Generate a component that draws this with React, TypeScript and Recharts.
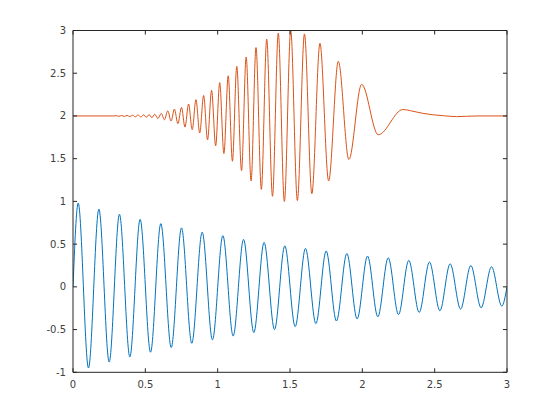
import React from "react";
import { LineChart, Line, XAxis, YAxis, ReferenceLine } from "recharts";

// Blue series: time stamps of samples (start, peaks/troughs, end) and values
const blueT = [0, 0.036, 0.107, 0.179, 0.25, 0.321, 0.393, 0.464, 0.536, 0.607, 0.679, 0.75, 0.821, 0.893, 0.964, 1.036, 1.107, 1.179, 1.25, 1.321, 1.393, 1.464, 1.536, 1.607, 1.679, 1.75, 1.821, 1.893, 1.964, 2.036, 2.107, 2.179, 2.25, 2.321, 2.393, 2.464, 2.536, 2.607, 2.679, 2.75, 2.821, 2.893, 2.964, 3.0];
const blueV = [0, 0.98, -0.95, 0.91, -0.88, 0.85, -0.82, 0.79, -0.765, 0.74, -0.71, 0.69, -0.66, 0.64, -0.62, 0.6, -0.575, 0.555, -0.535, 0.52, -0.5, 0.48, -0.465, 0.45, -0.43, 0.42, -0.4, 0.39, -0.375, 0.36, -0.35, 0.34, -0.325, 0.31, -0.3, 0.29, -0.28, 0.27, -0.26, 0.25, -0.245, 0.235, -0.225, 0];

// Orange series
const orangeT = [0, 0.28, 0.298, 0.317, 0.336, 0.355, 0.374, 0.393, 0.412, 0.431, 0.45, 0.469, 0.488, 0.507, 0.526, 0.545, 0.565, 0.587, 0.61, 0.632, 0.655, 0.678, 0.701, 0.725, 0.75, 0.774, 0.799, 0.824, 0.85, 0.876, 0.903, 0.93, 0.958, 0.986, 1.014, 1.043, 1.073, 1.102, 1.132, 1.165, 1.197, 1.231, 1.265, 1.302, 1.339, 1.379, 1.419, 1.461, 1.505, 1.551, 1.6, 1.651, 1.707, 1.767, 1.834, 1.907, 1.995, 2.11, 2.28, 2.35, 2.42, 2.49, 2.56, 2.65, 2.72, 2.8, 3.0];
const orangeV = [2, 2, 2.003, 1.996, 2.005, 1.994, 2.007, 1.992, 2.009, 1.99, 2.011, 1.988, 2.013, 1.985, 2.016, 1.98, 2.02, 1.97, 2.03, 1.955, 2.06, 1.94, 2.08, 1.91, 2.1, 1.87, 2.14, 1.84, 2.19, 1.8, 2.24, 1.72, 2.3, 1.65, 2.39, 1.56, 2.47, 1.47, 2.58, 1.36, 2.69, 1.24, 2.8, 1.14, 2.9, 1.06, 2.97, 1.0, 3.0, 1.01, 2.96, 1.09, 2.85, 1.24, 2.64, 1.49, 2.37, 1.78, 2.075, 2.055, 2.03, 2.013, 2.003, 1.992, 1.996, 2.0, 2.0];

const xTicks = [0, 0.5, 1, 1.5, 2, 2.5, 3];
const yTicks = [-1, -0.5, 0, 0.5, 1, 1.5, 2, 2.5, 3];
const xMin = 0, xMax = 3, yMin = -1, yMax = 3;

const blueData = blueT.map((t, i) => ({ t, v: blueV[i] }));
const orangeData = orangeT.map((t, i) => ({ t, v: orangeV[i] }));

const AX = "#262626";
const FONT = "DejaVu Sans";
// inward tick length in data units (≈4px)
const TX = 0.028;
const TY = 0.047;

const BottomTick = (p: any) => (
  <text x={p.x} y={p.y + 16} textAnchor="middle" fontFamily={FONT} fontSize={10} fill="#404040">
    {p.payload.value}
  </text>
);
const LeftTick = (p: any) => (
  <text x={p.x - 7} y={p.y + 3.5} textAnchor="end" fontFamily={FONT} fontSize={10} fill="#404040">
    {p.payload.value}
  </text>
);

export default function App() {
  return (
    <div style={{ width: 560, height: 420, background: "#fff" }}>
      <LineChart width={560} height={420} margin={{ top: 22.5, right: 61, left: 25, bottom: 25.7 }}>
        <XAxis dataKey="t" type="number" domain={[xMin, xMax]} ticks={xTicks} allowDataOverflow
          height={30} tickSize={0} tickMargin={0} tickLine={false} axisLine={false} tick={BottomTick} interval={0} />
        <YAxis type="number" domain={[yMin, yMax]} ticks={yTicks} allowDataOverflow
          width={40} tickSize={0} tickMargin={0} tickLine={false} axisLine={false} tick={LeftTick} interval={0} />
        <Line data={blueData} dataKey="v" type="monotone" stroke="#0072BD" strokeWidth={1} dot={false} isAnimationActive={false} />
        <Line data={orangeData} dataKey="v" type="monotone" stroke="#D95319" strokeWidth={1} dot={false} isAnimationActive={false} />
        <ReferenceLine x={xMin} stroke={AX} strokeWidth={1} ifOverflow="visible" />
        <ReferenceLine x={xMax} stroke={AX} strokeWidth={1} ifOverflow="visible" />
        <ReferenceLine y={yMin} stroke={AX} strokeWidth={1} ifOverflow="visible" />
        <ReferenceLine y={yMax} stroke={AX} strokeWidth={1} ifOverflow="visible" />
        {xTicks.map((v) => (
          <ReferenceLine key={"xb" + v} segment={[{ x: v, y: yMin }, { x: v, y: yMin + TY }]} stroke={AX} strokeWidth={1} ifOverflow="visible" />
        ))}
        {xTicks.map((v) => (
          <ReferenceLine key={"xt" + v} segment={[{ x: v, y: yMax }, { x: v, y: yMax - TY }]} stroke={AX} strokeWidth={1} ifOverflow="visible" />
        ))}
        {yTicks.map((v) => (
          <ReferenceLine key={"yl" + v} segment={[{ x: xMin, y: v }, { x: xMin + TX, y: v }]} stroke={AX} strokeWidth={1} ifOverflow="visible" />
        ))}
        {yTicks.map((v) => (
          <ReferenceLine key={"yr" + v} segment={[{ x: xMax, y: v }, { x: xMax - TX, y: v }]} stroke={AX} strokeWidth={1} ifOverflow="visible" />
        ))}
      </LineChart>
    </div>
  );
}
